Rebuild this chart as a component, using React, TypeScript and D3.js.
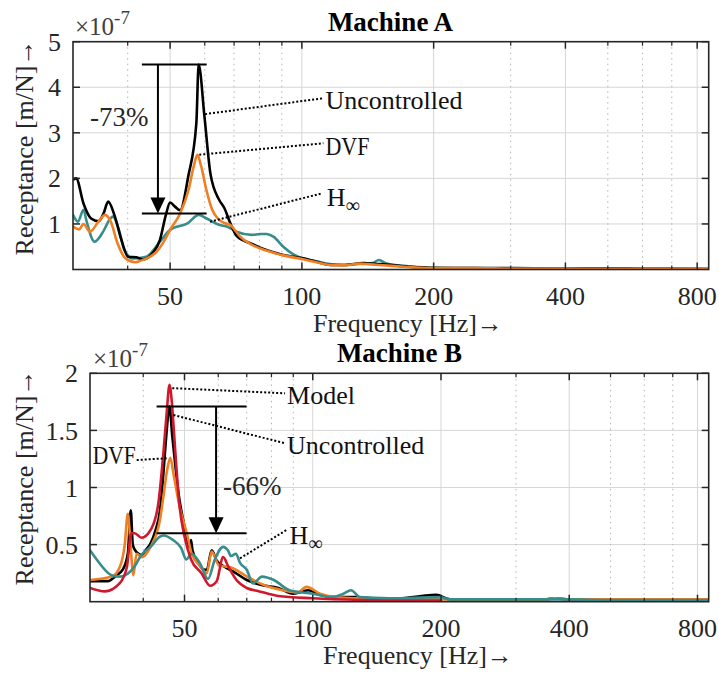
import React from 'react';
import * as d3 from 'd3';

type Pt = [number, number];

const X_DOMAIN: [number, number] = [30, 850];
const X_MAJOR = [50, 100, 200, 400, 800];
const X_MINOR = [40, 60, 70, 80, 90, 300, 500, 600, 700];
const A_Y_TICKS = [1, 2, 3, 4, 5];
const B_Y_TICKS = [0.5, 1, 1.5, 2];

// Machine A (values in 1e-7 m/N)
const A_UNCONTROLLED: Pt[] = [
  [30, 1.97], [30.5, 2.0], [31.7, 1.45], [33, 1.12], [34.3, 1.06], [35.2, 1.22], [36.1, 1.49], [37.4, 1.16],
  [38.7, 0.65], [40.1, 0.28], [41.9, 0.27], [43.3, 0.22], [44.5, 0.26], [45.6, 0.36], [47.4, 0.65], [48.9, 1.2],
  [50, 1.47], [51.3, 1.38], [52.7, 1.3], [55, 2.04], [57.4, 3.21], [58.1, 4.5], [59.9, 3.36], [61.8, 2.11],
  [64.7, 1.53], [66.5, 1.35], [68.6, 1.02], [70.9, 0.74], [73.5, 0.64], [76.9, 0.56], [80.3, 0.48], [86.1, 0.38],
  [90.7, 0.32], [100, 0.25], [108, 0.17], [116, 0.1], [125, 0.1], [138, 0.14], [150, 0.12], [160, 0.1],
  [171, 0.07], [196, 0.04], [250, 0.03], [300, 0.03], [400, 0.02], [500, 0.02], [600, 0.02], [700, 0.02], [850, 0.02],
];
const A_DVF: Pt[] = [
  [30, 0.94], [31, 0.88], [31.7, 1.0], [32.8, 0.83], [34.3, 1.05], [35.5, 1.2], [36.6, 1.05], [37.9, 0.58],
  [39.5, 0.25], [41.7, 0.16], [43, 0.2], [44.1, 0.24], [46.6, 0.39], [48.3, 0.6], [50, 0.87], [52.7, 1.23],
  [55.1, 1.75], [56.6, 2.26], [57.7, 2.52], [58.9, 2.26], [60.5, 1.75], [62.4, 1.31], [64.5, 1.1], [66.5, 1.02],
  [68.6, 0.98], [70.5, 0.85], [72.3, 0.72], [76.9, 0.54], [80.3, 0.46], [86.1, 0.37], [90.7, 0.31], [100, 0.23],
  [108, 0.16], [116, 0.1], [125, 0.09], [135, 0.13], [140, 0.12], [150, 0.1], [160, 0.08], [171, 0.06],
  [196, 0.03], [250, 0.03], [300, 0.02], [400, 0.02], [500, 0.015], [600, 0.02], [700, 0.02], [850, 0.025],
];
const A_HINF: Pt[] = [
  [30, 1.2], [30.8, 1.05], [31.7, 1.31], [32.2, 1.07], [33.6, 0.61], [35, 0.8], [36.6, 1.13], [37, 1.16],
  [38.2, 0.87], [39.3, 0.43], [41.1, 0.24], [44.1, 0.28], [47.4, 0.61], [50, 0.87], [54.9, 1.02], [58.1, 1.2],
  [60.6, 1.12], [64.7, 0.98], [67.6, 0.94], [70.9, 0.83], [76.9, 0.76], [80.3, 0.78], [83, 0.78], [86.1, 0.72],
  [90.7, 0.5], [95, 0.35], [100, 0.25], [108, 0.18], [116, 0.12], [125, 0.1], [138, 0.13], [145, 0.14],
  [150, 0.21], [156, 0.13], [171, 0.08], [196, 0.04], [250, 0.03], [300, 0.02], [400, 0.02], [500, 0.02],
  [600, 0.02], [700, 0.02], [850, 0.02],
];

// Machine B (values in 1e-7 m/N)
const B_MODEL: Pt[] = [
  [30, 0.12], [32.5, 0.09], [35.2, 0.16], [36.6, 0.3], [37.5, 0.6], [38.2, 0.6], [39.6, 0.56], [41.8, 0.64],
  [43.4, 0.86], [44.6, 1.3], [45.4, 1.65], [46.1, 1.9], [46.8, 1.7], [47.3, 1.45], [48.6, 0.86], [50, 0.57],
  [51.8, 0.37], [54.8, 0.25], [57.4, 0.14], [59.5, 0.18], [61.6, 0.39], [63.5, 0.3], [66.2, 0.19], [70, 0.12],
  [75, 0.09], [83, 0.05], [100, 0.03], [130, 0.015], [160, 0.01], [200, 0.01],
];
const B_UNCONTROLLED: Pt[] = [
  [30, 0.18], [33, 0.18], [34.6, 0.23], [35.8, 0.28], [36.8, 0.42], [37.4, 0.8], [37.8, 0.5], [38.3, 0.45],
  [39, 0.42], [39.7, 0.41], [40.5, 0.45], [41.6, 0.51], [42.7, 0.62], [43.8, 0.8], [44.6, 1.12], [45.3, 1.45],
  [46.1, 1.71], [46.8, 1.45], [47.4, 1.25], [48.4, 0.95], [50, 0.66], [51.4, 0.48], [51.8, 0.54], [52.2, 0.45],
  [53.8, 0.34], [55.8, 0.28], [56.4, 0.28], [57.9, 0.45], [59.5, 0.36], [61.8, 0.31], [65.4, 0.26], [70, 0.19],
  [75, 0.15], [83, 0.12], [90, 0.07], [97.5, 0.1], [104, 0.06], [113, 0.04], [125, 0.04], [140, 0.03],
  [160, 0.03], [180, 0.05], [195, 0.06], [210, 0.02], [250, 0.02], [350, 0.02], [370, 0.03], [400, 0.02],
  [500, 0.02], [600, 0.02], [700, 0.02], [850, 0.02],
];
const B_DVF: Pt[] = [
  [30, 0.19], [33.8, 0.22], [35.3, 0.31], [36.2, 0.5], [36.8, 0.77], [37.2, 0.6], [37.6, 0.35], [37.9, 0.23],
  [38.6, 0.42], [39.7, 0.39], [41.6, 0.48], [43.8, 0.72], [44.6, 0.92], [45.5, 1.15], [46.3, 1.26], [47.2, 1.1],
  [48.7, 0.83], [50.6, 0.6], [52, 0.42], [54.5, 0.31], [56.4, 0.25], [57.9, 0.44], [60.2, 0.32], [64.3, 0.3],
  [70.1, 0.22], [76.3, 0.15], [85, 0.1], [92, 0.08], [96.7, 0.13], [104, 0.07], [113, 0.04], [125, 0.03],
  [140, 0.03], [160, 0.02], [200, 0.02], [250, 0.02], [350, 0.02], [370, 0.03], [400, 0.02], [500, 0.02],
  [600, 0.02], [700, 0.02], [850, 0.02],
];
const B_HINF: Pt[] = [
  [30, 0.45], [31.1, 0.37], [33.8, 0.23], [35.3, 0.22], [38.2, 0.31], [39.6, 0.41], [41.6, 0.48], [43.8, 0.57],
  [44.6, 0.58], [47, 0.54], [49.1, 0.47], [50.5, 0.37], [51.9, 0.42], [54.3, 0.34], [56.8, 0.2], [58.9, 0.37],
  [61.6, 0.48], [63.2, 0.45], [64.3, 0.4], [66, 0.42], [67.5, 0.34], [70, 0.28], [72.4, 0.16], [76, 0.22],
  [81, 0.19], [88.2, 0.1], [100, 0.07], [111, 0.04], [118, 0.07], [123, 0.1], [129, 0.04], [151, 0.03],
  [198, 0.04], [210, 0.02], [300, 0.02], [400, 0.02], [500, 0.015], [600, 0.015], [700, 0.015], [850, 0.015],
];

const C_BLACK = '#000000';
const C_ORANGE = '#ef7f22';
const C_TEAL = '#378d8c';
const C_RED = '#d0182c';

const FONT = "'Liberation Serif', 'Times New Roman', serif";
const TXT = '#262626';

type Series = { data: Pt[]; color: string };
type Leader = { from: Pt; to: Pt; label: string; sub?: string; anchor?: 'start' | 'end'; textAt: Pt; dx: number; width?: number };

interface PanelCfg {
  id: string;
  left: number; right: number; top: number; bottom: number;
  yMax: number; yTicks: number[];
  title: string; titleX: number; titleY: number;
  expX: number; expY: number;
  ylabelX: number; ylabelY: number;
  xlabelX: number; xlabelY: number;
  series: Series[];
  bar: { f0: number; f1: number; fArrow: number; vTop: number; vBot: number; pct: string; pctAt: Pt };
  leaders: Leader[];
}

const PANELS: PanelCfg[] = [
  {
    id: 'A', left: 73, right: 708.7, top: 41.7, bottom: 269.5, yMax: 5, yTicks: A_Y_TICKS,
    title: 'Machine A', titleX: 390.5, titleY: 30.5, expX: 75, expY: 35,
    ylabelX: 33, ylabelY: 147.5, xlabelX: 313, xlabelY: 332,
    series: [
      { data: A_HINF, color: C_TEAL },
      { data: A_UNCONTROLLED, color: C_BLACK },
      { data: A_DVF, color: C_ORANGE },
    ],
    bar: { f0: 43.1, f1: 60.6, fArrow: 46.9, vTop: 4.5, vBot: 1.23, pct: '-73%', pctAt: [32.8, 3.35] },
    leaders: [
      { from: [60.1, 3.41], to: [112, 3.76], label: 'Uncontrolled', textAt: [112, 3.72], dx: 2 },
      { from: [58.3, 2.52], to: [112, 2.77], label: 'DVF', textAt: [112, 2.72], dx: 2, width: 44 },
      { from: [61.7, 1.05], to: [111, 1.67], label: 'H', sub: '∞', textAt: [111, 1.6], dx: 5 },
    ],
  },
  {
    id: 'B', left: 90, right: 708.7, top: 373.3, bottom: 601.7, yMax: 2, yTicks: B_Y_TICKS,
    title: 'Machine B', titleX: 399.5, titleY: 361.7, expX: 93, expY: 367,
    ylabelX: 33, ylabelY: 477.5, xlabelX: 323, xlabelY: 663.5,
    series: [
      { data: B_UNCONTROLLED, color: C_BLACK },
      { data: B_DVF, color: C_ORANGE },
      { data: B_HINF, color: C_TEAL },
      { data: B_MODEL, color: C_RED },
    ],
    bar: { f0: 43.0, f1: 69.9, fArrow: 59.3, vTop: 1.71, vBot: 0.6, pct: '-66%', pctAt: [61.6, 1.02] },
    leaders: [
      { from: [46.8, 1.87], to: [86.1, 1.825], label: 'Model', textAt: [86.1, 1.81], dx: 2 },
      { from: [47.1, 1.635], to: [86.1, 1.387], label: 'Uncontrolled', textAt: [86.1, 1.37], dx: 2 },
      { from: [45.4, 1.256], to: [38.6, 1.24], label: 'DVF', anchor: 'end', textAt: [38.6, 1.285], dx: -1, width: 43 },
      { from: [67.5, 0.38], to: [86.8, 0.628], label: 'H', sub: '∞', textAt: [86.8, 0.584], dx: 3 },
    ],
  },
];

function Panel({ p }: { p: PanelCfg }) {
  const x = d3.scaleLog().domain(X_DOMAIN).range([p.left, p.right]);
  const y = d3.scaleLinear().domain([0, p.yMax]).range([p.bottom, p.top]);
  const line = d3.line<Pt>().x(d => x(d[0])).y(d => y(d[1])).curve(d3.curveMonotoneX);
  const clipId = `clip-${p.id}`;
  const tickLen = 7;
  const minorLen = 4;
  const b = p.bar;
  const ax = x(b.fArrow);
  const yT = y(b.vTop);
  const yB = y(b.vBot);
  return (
    <g>
      <defs>
        <clipPath id={clipId}>
          <rect x={p.left} y={p.top} width={p.right - p.left} height={p.bottom - p.top} />
        </clipPath>
      </defs>
      {/* grid */}
      {p.yTicks.filter(t => t < p.yMax).map(t => (
        <line key={'gy' + t} x1={p.left} x2={p.right} y1={y(t)} y2={y(t)} stroke="#d6d6d6" strokeWidth={1} />
      ))}
      {X_MAJOR.map(t => (
        <line key={'gx' + t} x1={x(t)} x2={x(t)} y1={p.top} y2={p.bottom} stroke="#d6d6d6" strokeWidth={1} />
      ))}
      {X_MINOR.map(t => (
        <line key={'gm' + t} x1={x(t)} x2={x(t)} y1={p.top} y2={p.bottom} stroke="#b4b4b4" strokeWidth={1} strokeDasharray="1.5,4" />
      ))}
      {/* series */}
      <g clipPath={`url(#${clipId})`}>
        {p.series.map((s, i) => (
          <path key={i} d={line(s.data) || ''} fill="none" stroke={s.color} strokeWidth={2.6} strokeLinejoin="round" strokeLinecap="round" />
        ))}
      </g>
      {/* axes box */}
      <rect x={p.left} y={p.top} width={p.right - p.left} height={p.bottom - p.top} fill="none" stroke={TXT} strokeWidth={1.6} />
      {X_MAJOR.map(t => (
        <g key={'tx' + t}>
          <line x1={x(t)} x2={x(t)} y1={p.bottom} y2={p.bottom - tickLen} stroke={TXT} strokeWidth={1.5} />
          <line x1={x(t)} x2={x(t)} y1={p.top} y2={p.top + tickLen} stroke={TXT} strokeWidth={1.5} />
          <text x={x(t)} y={p.bottom + 35} textAnchor="middle" fontFamily={FONT} fontSize={26} fill={TXT}>{t}</text>
        </g>
      ))}
      {X_MINOR.map(t => (
        <g key={'tm' + t}>
          <line x1={x(t)} x2={x(t)} y1={p.bottom} y2={p.bottom - minorLen} stroke={TXT} strokeWidth={1.2} />
          <line x1={x(t)} x2={x(t)} y1={p.top} y2={p.top + minorLen} stroke={TXT} strokeWidth={1.2} />
        </g>
      ))}
      {p.yTicks.map(t => (
        <g key={'ty' + t}>
          <line x1={p.left} x2={p.left + tickLen} y1={y(t)} y2={y(t)} stroke={TXT} strokeWidth={1.5} />
          <line x1={p.right} x2={p.right - tickLen} y1={y(t)} y2={y(t)} stroke={TXT} strokeWidth={1.5} />
          <text x={p.left - 12} y={y(t)} dy="0.35em" textAnchor="end" fontFamily={FONT} fontSize={26} fill={TXT}>{t}</text>
        </g>
      ))}
      {/* exponent */}
      <text x={p.expX} y={p.expY} fontFamily={FONT} fontSize={25} fill="#404040">
        ×10<tspan dy={-11} fontSize={19}>-7</tspan>
      </text>
      {/* title */}
      <text x={p.titleX} y={p.titleY} textAnchor="middle" fontFamily={FONT} fontWeight="bold" fontSize={27} fill="#000">{p.title}</text>
      {/* axis labels */}
      <text x={p.xlabelX} y={p.xlabelY} fontFamily={FONT} fontSize={26} fill={TXT}>Frequency [Hz]→</text>
      <text transform={`translate(${p.ylabelX},${p.ylabelY}) rotate(-90)`} textAnchor="middle" fontFamily={FONT} fontSize={26} fill={TXT}>Receptance [m/N]→</text>
      {/* reduction bar */}
      <line x1={x(b.f0)} x2={x(b.f1)} y1={yT} y2={yT} stroke="#000" strokeWidth={2} />
      <line x1={x(b.f0)} x2={x(b.f1)} y1={yB} y2={yB} stroke="#000" strokeWidth={2} />
      <line x1={ax} x2={ax} y1={yT} y2={yB - 14} stroke="#000" strokeWidth={2} />
      <path d={`M${ax - 7.5},${yB - 16} L${ax + 7.5},${yB - 16} L${ax},${yB} Z`} fill="#000" />
      <text x={x(b.pctAt[0])} y={y(b.pctAt[1])} dy="0.35em" fontFamily={FONT} fontSize={27} fill={TXT}>{b.pct}</text>
      {/* leaders */}
      {p.leaders.map((l, i) => (
        <g key={'ld' + i}>
          <line x1={x(l.from[0])} y1={y(l.from[1])} x2={x(l.to[0])} y2={y(l.to[1])} stroke="#000" strokeWidth={2} strokeDasharray="2,2" />
          <text x={x(l.textAt[0]) + l.dx} y={y(l.textAt[1])} dy="0.35em" textAnchor={l.anchor || 'start'} fontFamily={FONT} fontSize={26} fill="#111"
            {...(l.width ? { textLength: l.width, lengthAdjust: 'spacingAndGlyphs' } : {})}>
            {l.label}
            {l.sub ? <tspan fontSize={20} dy={6}>{l.sub}</tspan> : null}
          </text>
        </g>
      ))}
    </g>
  );
}

export default function App() {
  return (
    <svg width={719} height={673} viewBox="0 0 719 673" style={{ display: 'block', background: '#fff', margin: 0, position: 'absolute', left: 0, top: 0 }}>
      <rect x={0} y={0} width={719} height={673} fill="#fff" />
      {PANELS.map(p => <Panel key={p.id} p={p} />)}
    </svg>
  );
}
